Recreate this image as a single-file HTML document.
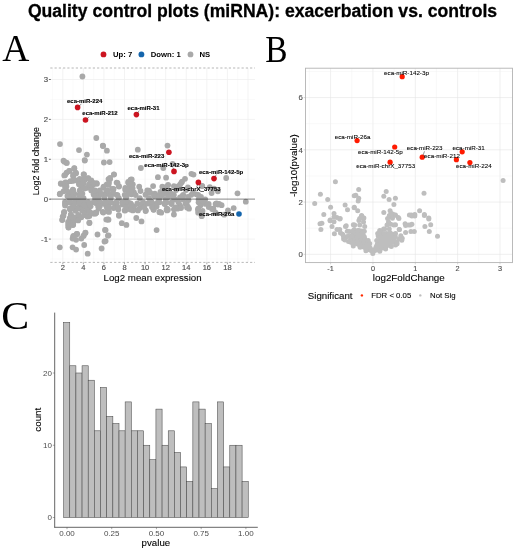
<!DOCTYPE html>
<html><head><meta charset="utf-8"><style>
html,body{margin:0;padding:0;background:#fff;width:518px;height:550px;overflow:hidden}
svg{display:block;filter:blur(0.4px)}
</style></head><body>
<svg width="518" height="550" viewBox="0 0 518 550">
<rect width="518" height="550" fill="#fff"/>
<text x="262.5" y="17.2" text-anchor="middle" font-family="Liberation Sans, sans-serif" font-weight="bold" font-size="17.6" fill="#000" stroke="#000" stroke-width="0.3">Quality control plots (miRNA): exacerbation vs. controls</text>
<text x="2.3" y="61.2" font-family="Liberation Serif, serif" font-size="37.5" fill="#000">A</text>
<text transform="translate(265.3,61.9) scale(0.89,1)" x="0" y="0" font-family="Liberation Serif, serif" font-size="37.5" fill="#000">B</text>
<text transform="translate(1.2,329.2) scale(1.06,1)" font-family="Liberation Serif, serif" font-size="39.5" fill="#000">C</text>
<line x1="52.51" y1="68.0" x2="52.51" y2="262.4" stroke="#f5f5f5" stroke-width="0.4"/><line x1="62.80" y1="68.0" x2="62.80" y2="262.4" stroke="#eeeeee" stroke-width="0.7"/><line x1="73.09" y1="68.0" x2="73.09" y2="262.4" stroke="#f5f5f5" stroke-width="0.4"/><line x1="83.38" y1="68.0" x2="83.38" y2="262.4" stroke="#eeeeee" stroke-width="0.7"/><line x1="93.66" y1="68.0" x2="93.66" y2="262.4" stroke="#f5f5f5" stroke-width="0.4"/><line x1="103.95" y1="68.0" x2="103.95" y2="262.4" stroke="#eeeeee" stroke-width="0.7"/><line x1="114.24" y1="68.0" x2="114.24" y2="262.4" stroke="#f5f5f5" stroke-width="0.4"/><line x1="124.53" y1="68.0" x2="124.53" y2="262.4" stroke="#eeeeee" stroke-width="0.7"/><line x1="134.81" y1="68.0" x2="134.81" y2="262.4" stroke="#f5f5f5" stroke-width="0.4"/><line x1="145.10" y1="68.0" x2="145.10" y2="262.4" stroke="#eeeeee" stroke-width="0.7"/><line x1="155.39" y1="68.0" x2="155.39" y2="262.4" stroke="#f5f5f5" stroke-width="0.4"/><line x1="165.67" y1="68.0" x2="165.67" y2="262.4" stroke="#eeeeee" stroke-width="0.7"/><line x1="175.96" y1="68.0" x2="175.96" y2="262.4" stroke="#f5f5f5" stroke-width="0.4"/><line x1="186.25" y1="68.0" x2="186.25" y2="262.4" stroke="#eeeeee" stroke-width="0.7"/><line x1="196.54" y1="68.0" x2="196.54" y2="262.4" stroke="#f5f5f5" stroke-width="0.4"/><line x1="206.82" y1="68.0" x2="206.82" y2="262.4" stroke="#eeeeee" stroke-width="0.7"/><line x1="217.11" y1="68.0" x2="217.11" y2="262.4" stroke="#f5f5f5" stroke-width="0.4"/><line x1="227.40" y1="68.0" x2="227.40" y2="262.4" stroke="#eeeeee" stroke-width="0.7"/><line x1="237.69" y1="68.0" x2="237.69" y2="262.4" stroke="#f5f5f5" stroke-width="0.4"/><line x1="247.97" y1="68.0" x2="247.97" y2="262.4" stroke="#eeeeee" stroke-width="0.7"/><line x1="50.3" y1="259.05" x2="255.0" y2="259.05" stroke="#f5f5f5" stroke-width="0.4"/><line x1="50.3" y1="239.10" x2="255.0" y2="239.10" stroke="#eeeeee" stroke-width="0.7"/><line x1="50.3" y1="219.15" x2="255.0" y2="219.15" stroke="#f5f5f5" stroke-width="0.4"/><line x1="50.3" y1="179.25" x2="255.0" y2="179.25" stroke="#f5f5f5" stroke-width="0.4"/><line x1="50.3" y1="159.30" x2="255.0" y2="159.30" stroke="#eeeeee" stroke-width="0.7"/><line x1="50.3" y1="139.35" x2="255.0" y2="139.35" stroke="#f5f5f5" stroke-width="0.4"/><line x1="50.3" y1="119.40" x2="255.0" y2="119.40" stroke="#eeeeee" stroke-width="0.7"/><line x1="50.3" y1="99.45" x2="255.0" y2="99.45" stroke="#f5f5f5" stroke-width="0.4"/><line x1="50.3" y1="79.50" x2="255.0" y2="79.50" stroke="#eeeeee" stroke-width="0.7"/>
<text x="48.0" y="82.25" text-anchor="end" font-family="Liberation Sans, sans-serif" font-size="7.8" fill="#4d4d4d" stroke="#4d4d4d" stroke-width="0.15">3</text>
<line x1="48.9" y1="79.50" x2="50.8" y2="79.50" stroke="#333" stroke-width="0.7"/>
<text x="48.0" y="122.15" text-anchor="end" font-family="Liberation Sans, sans-serif" font-size="7.8" fill="#4d4d4d" stroke="#4d4d4d" stroke-width="0.15">2</text>
<line x1="48.9" y1="119.40" x2="50.8" y2="119.40" stroke="#333" stroke-width="0.7"/>
<text x="48.0" y="162.05" text-anchor="end" font-family="Liberation Sans, sans-serif" font-size="7.8" fill="#4d4d4d" stroke="#4d4d4d" stroke-width="0.15">1</text>
<line x1="48.9" y1="159.30" x2="50.8" y2="159.30" stroke="#333" stroke-width="0.7"/>
<text x="48.0" y="201.95" text-anchor="end" font-family="Liberation Sans, sans-serif" font-size="7.8" fill="#4d4d4d" stroke="#4d4d4d" stroke-width="0.15">0</text>
<line x1="48.9" y1="199.20" x2="50.8" y2="199.20" stroke="#333" stroke-width="0.7"/>
<text x="48.0" y="241.85" text-anchor="end" font-family="Liberation Sans, sans-serif" font-size="7.8" fill="#4d4d4d" stroke="#4d4d4d" stroke-width="0.15">-1</text>
<line x1="48.9" y1="239.10" x2="50.8" y2="239.10" stroke="#333" stroke-width="0.7"/>
<text x="62.80" y="270.4" text-anchor="middle" font-family="Liberation Sans, sans-serif" font-size="7.5" fill="#4d4d4d" stroke="#4d4d4d" stroke-width="0.15">2</text>
<line x1="62.80" y1="262.4" x2="62.80" y2="264.3" stroke="#4d4d4d" stroke-width="0.5"/>
<text x="83.38" y="270.4" text-anchor="middle" font-family="Liberation Sans, sans-serif" font-size="7.5" fill="#4d4d4d" stroke="#4d4d4d" stroke-width="0.15">4</text>
<line x1="83.38" y1="262.4" x2="83.38" y2="264.3" stroke="#4d4d4d" stroke-width="0.5"/>
<text x="103.95" y="270.4" text-anchor="middle" font-family="Liberation Sans, sans-serif" font-size="7.5" fill="#4d4d4d" stroke="#4d4d4d" stroke-width="0.15">6</text>
<line x1="103.95" y1="262.4" x2="103.95" y2="264.3" stroke="#4d4d4d" stroke-width="0.5"/>
<text x="124.53" y="270.4" text-anchor="middle" font-family="Liberation Sans, sans-serif" font-size="7.5" fill="#4d4d4d" stroke="#4d4d4d" stroke-width="0.15">8</text>
<line x1="124.53" y1="262.4" x2="124.53" y2="264.3" stroke="#4d4d4d" stroke-width="0.5"/>
<text x="145.10" y="270.4" text-anchor="middle" font-family="Liberation Sans, sans-serif" font-size="7.5" fill="#4d4d4d" stroke="#4d4d4d" stroke-width="0.15">10</text>
<line x1="145.10" y1="262.4" x2="145.10" y2="264.3" stroke="#4d4d4d" stroke-width="0.5"/>
<text x="165.67" y="270.4" text-anchor="middle" font-family="Liberation Sans, sans-serif" font-size="7.5" fill="#4d4d4d" stroke="#4d4d4d" stroke-width="0.15">12</text>
<line x1="165.67" y1="262.4" x2="165.67" y2="264.3" stroke="#4d4d4d" stroke-width="0.5"/>
<text x="186.25" y="270.4" text-anchor="middle" font-family="Liberation Sans, sans-serif" font-size="7.5" fill="#4d4d4d" stroke="#4d4d4d" stroke-width="0.15">14</text>
<line x1="186.25" y1="262.4" x2="186.25" y2="264.3" stroke="#4d4d4d" stroke-width="0.5"/>
<text x="206.82" y="270.4" text-anchor="middle" font-family="Liberation Sans, sans-serif" font-size="7.5" fill="#4d4d4d" stroke="#4d4d4d" stroke-width="0.15">16</text>
<line x1="206.82" y1="262.4" x2="206.82" y2="264.3" stroke="#4d4d4d" stroke-width="0.5"/>
<text x="227.40" y="270.4" text-anchor="middle" font-family="Liberation Sans, sans-serif" font-size="7.5" fill="#4d4d4d" stroke="#4d4d4d" stroke-width="0.15">18</text>
<line x1="227.40" y1="262.4" x2="227.40" y2="264.3" stroke="#4d4d4d" stroke-width="0.5"/>
<text x="152.6" y="280.8" text-anchor="middle" font-family="Liberation Sans, sans-serif" font-size="9.7" fill="#000" stroke="#000" stroke-width="0.1">Log2 mean expression</text>
<text transform="translate(38.8,161.2) rotate(-90)" text-anchor="middle" font-family="Liberation Sans, sans-serif" font-size="8.9" fill="#000" stroke="#000" stroke-width="0.1">Log2 fold change</text>
<circle cx="103.5" cy="54.4" r="2.9" fill="#CC1420"/>
<text x="113" y="57.2" font-family="Liberation Sans, sans-serif" font-weight="bold" font-size="7.7" fill="#000">Up: 7</text>
<circle cx="141.4" cy="54.4" r="2.9" fill="#1465AC"/>
<text x="150.8" y="57.2" font-family="Liberation Sans, sans-serif" font-weight="bold" font-size="7.7" fill="#000">Down: 1</text>
<circle cx="190.5" cy="54.4" r="2.9" fill="#A9A9A9"/>
<text x="199.5" y="57.2" font-family="Liberation Sans, sans-serif" font-weight="bold" font-size="7.7" fill="#000">NS</text>
<g id="ptsA" fill="#A9A9A9"><circle cx="82.4" cy="76.5" r="2.9"/><circle cx="96.3" cy="138.0" r="2.9"/><circle cx="60.0" cy="144.1" r="2.9"/><circle cx="102.8" cy="145.7" r="2.9"/><circle cx="79.0" cy="150.1" r="2.9"/><circle cx="86.9" cy="154.6" r="2.9"/><circle cx="84.7" cy="160.1" r="2.9"/><circle cx="63.5" cy="160.7" r="2.9"/><circle cx="66.4" cy="162.8" r="2.9"/><circle cx="103.1" cy="146.0" r="2.9"/><circle cx="106.9" cy="150.7" r="2.9"/><circle cx="137.8" cy="149.7" r="2.9"/><circle cx="167.5" cy="145.6" r="2.9"/><circle cx="103.9" cy="162.5" r="2.9"/><circle cx="109.6" cy="162.1" r="2.9"/><circle cx="140.9" cy="168.0" r="2.9"/><circle cx="163.3" cy="168.0" r="2.9"/><circle cx="113.9" cy="174.6" r="2.9"/><circle cx="110.0" cy="178.0" r="2.9"/><circle cx="131.7" cy="179.5" r="2.9"/><circle cx="157.9" cy="177.2" r="2.9"/><circle cx="166.1" cy="177.7" r="2.9"/><circle cx="191.4" cy="173.8" r="2.9"/><circle cx="185.0" cy="178.8" r="2.9"/><circle cx="226.2" cy="178.0" r="2.9"/><circle cx="64.5" cy="161.7" r="2.9"/><circle cx="66.8" cy="162.9" r="2.9"/><circle cx="84.8" cy="160.6" r="2.9"/><circle cx="74.3" cy="168.1" r="2.9"/><circle cx="69.1" cy="171.0" r="2.9"/><circle cx="65.1" cy="175.1" r="2.9"/><circle cx="76.1" cy="173.3" r="2.9"/><circle cx="83.6" cy="174.5" r="2.9"/><circle cx="88.2" cy="178.5" r="2.9"/><circle cx="73.2" cy="176.2" r="2.9"/><circle cx="61.0" cy="183.8" r="2.9"/><circle cx="66.8" cy="182.6" r="2.9"/><circle cx="72.6" cy="180.9" r="2.9"/><circle cx="79.0" cy="182.0" r="2.9"/><circle cx="84.8" cy="179.7" r="2.9"/><circle cx="90.6" cy="182.0" r="2.9"/><circle cx="96.9" cy="183.8" r="2.9"/><circle cx="108.5" cy="179.1" r="2.9"/><circle cx="103.3" cy="187.8" r="2.9"/><circle cx="106.8" cy="184.3" r="2.9"/><circle cx="65.1" cy="190.1" r="2.9"/><circle cx="59.8" cy="194.2" r="2.9"/><circle cx="73.2" cy="190.1" r="2.9"/><circle cx="81.3" cy="187.8" r="2.9"/><circle cx="91.7" cy="187.8" r="2.9"/><circle cx="69.7" cy="194.8" r="2.9"/><circle cx="79.0" cy="194.8" r="2.9"/><circle cx="82.4" cy="193.6" r="2.9"/><circle cx="94.0" cy="194.8" r="2.9"/><circle cx="98.7" cy="192.4" r="2.9"/><circle cx="105.6" cy="193.6" r="2.9"/><circle cx="87.1" cy="187.8" r="2.9"/><circle cx="66.2" cy="202.9" r="2.9"/><circle cx="73.2" cy="204.0" r="2.9"/><circle cx="80.1" cy="202.9" r="2.9"/><circle cx="88.2" cy="204.0" r="2.9"/><circle cx="96.4" cy="202.9" r="2.9"/><circle cx="104.5" cy="204.0" r="2.9"/><circle cx="69.7" cy="208.7" r="2.9"/><circle cx="79.0" cy="208.7" r="2.9"/><circle cx="88.2" cy="208.7" r="2.9"/><circle cx="98.7" cy="208.7" r="2.9"/><circle cx="107.9" cy="208.7" r="2.9"/><circle cx="69.7" cy="198.2" r="2.9"/><circle cx="79.0" cy="198.8" r="2.9"/><circle cx="95.2" cy="198.2" r="2.9"/><circle cx="104.5" cy="198.2" r="2.9"/><circle cx="65.1" cy="205.6" r="2.9"/><circle cx="73.2" cy="207.3" r="2.9"/><circle cx="80.1" cy="206.2" r="2.9"/><circle cx="88.2" cy="207.3" r="2.9"/><circle cx="98.7" cy="206.7" r="2.9"/><circle cx="106.8" cy="207.3" r="2.9"/><circle cx="82.4" cy="210.8" r="2.9"/><circle cx="75.5" cy="210.8" r="2.9"/><circle cx="70.3" cy="209.6" r="2.9"/><circle cx="63.9" cy="212.5" r="2.9"/><circle cx="62.7" cy="216.6" r="2.9"/><circle cx="62.2" cy="220.1" r="2.9"/><circle cx="70.9" cy="214.8" r="2.9"/><circle cx="70.3" cy="218.9" r="2.9"/><circle cx="69.1" cy="222.4" r="2.9"/><circle cx="68.5" cy="227.6" r="2.9"/><circle cx="73.2" cy="224.7" r="2.9"/><circle cx="75.5" cy="218.9" r="2.9"/><circle cx="79.0" cy="215.4" r="2.9"/><circle cx="84.8" cy="213.1" r="2.9"/><circle cx="89.4" cy="216.0" r="2.9"/><circle cx="95.2" cy="213.7" r="2.9"/><circle cx="96.3" cy="212.5" r="2.9"/><circle cx="103.3" cy="212.5" r="2.9"/><circle cx="107.9" cy="211.4" r="2.9"/><circle cx="107.9" cy="219.5" r="2.9"/><circle cx="89.4" cy="223.0" r="2.9"/><circle cx="105.0" cy="229.9" r="2.9"/><circle cx="107.9" cy="235.7" r="2.9"/><circle cx="97.5" cy="234.5" r="2.9"/><circle cx="104.5" cy="241.5" r="2.9"/><circle cx="101.6" cy="248.5" r="2.9"/><circle cx="85.3" cy="232.8" r="2.9"/><circle cx="83.6" cy="235.7" r="2.9"/><circle cx="81.3" cy="238.6" r="2.9"/><circle cx="77.2" cy="234.0" r="2.9"/><circle cx="73.2" cy="236.3" r="2.9"/><circle cx="76.1" cy="239.8" r="2.9"/><circle cx="72.6" cy="238.6" r="2.9"/><circle cx="84.2" cy="245.0" r="2.9"/><circle cx="59.8" cy="247.3" r="2.9"/><circle cx="72.6" cy="247.3" r="2.9"/><circle cx="76.1" cy="249.6" r="2.9"/><circle cx="87.7" cy="253.7" r="2.9"/><circle cx="128.2" cy="182.0" r="2.9"/><circle cx="116.6" cy="182.6" r="2.9"/><circle cx="118.9" cy="186.1" r="2.9"/><circle cx="108.5" cy="184.9" r="2.9"/><circle cx="112.0" cy="189.0" r="2.9"/><circle cx="106.7" cy="191.3" r="2.9"/><circle cx="125.3" cy="187.8" r="2.9"/><circle cx="129.9" cy="186.7" r="2.9"/><circle cx="132.8" cy="184.3" r="2.9"/><circle cx="139.2" cy="186.7" r="2.9"/><circle cx="153.1" cy="186.1" r="2.9"/><circle cx="149.0" cy="190.7" r="2.9"/><circle cx="134.0" cy="192.4" r="2.9"/><circle cx="128.2" cy="193.6" r="2.9"/><circle cx="124.7" cy="194.8" r="2.9"/><circle cx="116.6" cy="194.8" r="2.9"/><circle cx="109.6" cy="194.8" r="2.9"/><circle cx="145.6" cy="194.8" r="2.9"/><circle cx="154.8" cy="193.6" r="2.9"/><circle cx="161.8" cy="192.4" r="2.9"/><circle cx="159.5" cy="194.8" r="2.9"/><circle cx="108.5" cy="204.0" r="2.9"/><circle cx="115.4" cy="204.0" r="2.9"/><circle cx="122.4" cy="204.6" r="2.9"/><circle cx="134.0" cy="206.3" r="2.9"/><circle cx="142.1" cy="204.0" r="2.9"/><circle cx="156.0" cy="204.0" r="2.9"/><circle cx="110.8" cy="198.2" r="2.9"/><circle cx="118.9" cy="198.2" r="2.9"/><circle cx="125.9" cy="198.2" r="2.9"/><circle cx="139.8" cy="198.2" r="2.9"/><circle cx="149.0" cy="198.2" r="2.9"/><circle cx="159.5" cy="198.2" r="2.9"/><circle cx="108.5" cy="203.5" r="2.9"/><circle cx="115.4" cy="203.5" r="2.9"/><circle cx="122.4" cy="202.3" r="2.9"/><circle cx="130.5" cy="203.5" r="2.9"/><circle cx="137.4" cy="203.5" r="2.9"/><circle cx="143.2" cy="202.3" r="2.9"/><circle cx="151.3" cy="201.7" r="2.9"/><circle cx="159.5" cy="202.3" r="2.9"/><circle cx="108.5" cy="211.0" r="2.9"/><circle cx="118.9" cy="215.1" r="2.9"/><circle cx="124.7" cy="210.4" r="2.9"/><circle cx="132.8" cy="210.4" r="2.9"/><circle cx="139.8" cy="208.1" r="2.9"/><circle cx="145.6" cy="211.0" r="2.9"/><circle cx="143.2" cy="204.6" r="2.9"/><circle cx="153.7" cy="209.8" r="2.9"/><circle cx="159.5" cy="212.2" r="2.9"/><circle cx="108.5" cy="219.7" r="2.9"/><circle cx="136.3" cy="218.0" r="2.9"/><circle cx="141.5" cy="221.4" r="2.9"/><circle cx="121.8" cy="223.2" r="2.9"/><circle cx="126.4" cy="224.9" r="2.9"/><circle cx="105.6" cy="230.1" r="2.9"/><circle cx="108.5" cy="235.3" r="2.9"/><circle cx="105.6" cy="241.1" r="2.9"/><circle cx="156.6" cy="230.1" r="2.9"/><circle cx="181.4" cy="182.6" r="2.9"/><circle cx="178.5" cy="186.1" r="2.9"/><circle cx="173.9" cy="186.1" r="2.9"/><circle cx="168.1" cy="184.9" r="2.9"/><circle cx="162.3" cy="186.7" r="2.9"/><circle cx="202.3" cy="186.1" r="2.9"/><circle cx="209.8" cy="187.2" r="2.9"/><circle cx="211.6" cy="193.0" r="2.9"/><circle cx="217.9" cy="191.3" r="2.9"/><circle cx="167.0" cy="193.6" r="2.9"/><circle cx="173.9" cy="194.8" r="2.9"/><circle cx="183.2" cy="194.8" r="2.9"/><circle cx="191.3" cy="194.8" r="2.9"/><circle cx="198.2" cy="194.8" r="2.9"/><circle cx="165.8" cy="199.4" r="2.9"/><circle cx="175.1" cy="199.4" r="2.9"/><circle cx="183.2" cy="199.4" r="2.9"/><circle cx="188.5" cy="200.0" r="2.9"/><circle cx="198.6" cy="199.4" r="2.9"/><circle cx="205.2" cy="199.4" r="2.9"/><circle cx="164.6" cy="204.0" r="2.9"/><circle cx="171.6" cy="204.0" r="2.9"/><circle cx="179.7" cy="205.2" r="2.9"/><circle cx="186.7" cy="204.0" r="2.9"/><circle cx="200.6" cy="205.2" r="2.9"/><circle cx="208.7" cy="204.0" r="2.9"/><circle cx="215.6" cy="204.0" r="2.9"/><circle cx="167.0" cy="208.7" r="2.9"/><circle cx="177.4" cy="208.7" r="2.9"/><circle cx="189.0" cy="208.7" r="2.9"/><circle cx="198.2" cy="208.7" r="2.9"/><circle cx="213.3" cy="208.7" r="2.9"/><circle cx="164.6" cy="203.5" r="2.9"/><circle cx="171.6" cy="202.3" r="2.9"/><circle cx="178.5" cy="202.3" r="2.9"/><circle cx="185.5" cy="203.5" r="2.9"/><circle cx="188.0" cy="207.0" r="2.9"/><circle cx="167.0" cy="210.4" r="2.9"/><circle cx="173.9" cy="209.3" r="2.9"/><circle cx="173.9" cy="214.5" r="2.9"/><circle cx="180.9" cy="207.0" r="2.9"/><circle cx="161.2" cy="212.7" r="2.9"/><circle cx="198.6" cy="202.3" r="2.9"/><circle cx="204.0" cy="202.3" r="2.9"/><circle cx="198.2" cy="209.3" r="2.9"/><circle cx="198.2" cy="212.7" r="2.9"/><circle cx="201.7" cy="216.2" r="2.9"/><circle cx="208.7" cy="207.0" r="2.9"/><circle cx="213.3" cy="209.3" r="2.9"/><circle cx="217.9" cy="204.6" r="2.9"/><circle cx="215.6" cy="212.7" r="2.9"/><circle cx="214.0" cy="188.6" r="2.9"/><circle cx="237.5" cy="193.3" r="2.9"/><circle cx="245.8" cy="201.7" r="2.9"/><circle cx="216.5" cy="203.3" r="2.9"/><circle cx="221.6" cy="205.2" r="2.9"/><circle cx="219.1" cy="203.9" r="2.9"/><circle cx="212.1" cy="209.0" r="2.9"/><circle cx="205.7" cy="203.9" r="2.9"/><circle cx="202.5" cy="200.7" r="2.9"/><circle cx="233.7" cy="208.1" r="2.9"/><circle cx="228.0" cy="210.3" r="2.9"/><circle cx="224.2" cy="214.7" r="2.9"/><circle cx="201.9" cy="215.3" r="2.9"/><circle cx="202.5" cy="210.9" r="2.9"/><circle cx="74.3" cy="168.5" r="2.9"/><circle cx="69.7" cy="170.8" r="2.9"/><circle cx="66.6" cy="172.7" r="2.9"/><circle cx="64.3" cy="175.4" r="2.9"/><circle cx="75.8" cy="172.7" r="2.9"/><circle cx="73.1" cy="175.0" r="2.9"/><circle cx="84.0" cy="174.3" r="2.9"/><circle cx="88.2" cy="178.1" r="2.9"/><circle cx="91.3" cy="180.4" r="2.9"/><circle cx="60.8" cy="183.5" r="2.9"/><circle cx="65.4" cy="182.4" r="2.9"/><circle cx="70.4" cy="181.2" r="2.9"/><circle cx="75.8" cy="180.4" r="2.9"/><circle cx="79.7" cy="178.9" r="2.9"/><circle cx="82.0" cy="179.7" r="2.9"/><circle cx="78.9" cy="184.3" r="2.9"/><circle cx="83.6" cy="183.5" r="2.9"/><circle cx="89.0" cy="184.3" r="2.9"/><circle cx="93.6" cy="184.3" r="2.9"/><circle cx="65.0" cy="186.6" r="2.9"/><circle cx="60.0" cy="193.6" r="2.9"/><circle cx="63.5" cy="191.3" r="2.9"/><circle cx="67.4" cy="191.3" r="2.9"/><circle cx="72.8" cy="189.7" r="2.9"/><circle cx="74.3" cy="193.6" r="2.9"/><circle cx="79.7" cy="190.5" r="2.9"/><circle cx="80.5" cy="195.1" r="2.9"/><circle cx="91.3" cy="190.5" r="2.9"/><circle cx="93.6" cy="194.3" r="2.9"/><circle cx="67.4" cy="195.9" r="2.9"/><circle cx="71.2" cy="197.4" r="2.9"/><circle cx="65.0" cy="202.1" r="2.9"/><circle cx="70.4" cy="202.1" r="2.9"/><circle cx="76.6" cy="202.1" r="2.9"/><circle cx="82.0" cy="202.8" r="2.9"/><circle cx="88.2" cy="202.1" r="2.9"/><circle cx="93.6" cy="202.1" r="2.9"/><circle cx="65.0" cy="203.8" r="2.9"/><circle cx="69.7" cy="202.6" r="2.9"/><circle cx="74.3" cy="203.4" r="2.9"/><circle cx="79.7" cy="203.0" r="2.9"/><circle cx="85.1" cy="202.6" r="2.9"/><circle cx="89.7" cy="203.4" r="2.9"/><circle cx="72.0" cy="208.0" r="2.9"/><circle cx="77.4" cy="208.0" r="2.9"/><circle cx="82.8" cy="207.3" r="2.9"/><circle cx="87.4" cy="208.8" r="2.9"/><circle cx="92.8" cy="213.4" r="2.9"/><circle cx="64.3" cy="211.9" r="2.9"/><circle cx="63.5" cy="215.8" r="2.9"/><circle cx="62.3" cy="219.6" r="2.9"/><circle cx="70.8" cy="214.6" r="2.9"/><circle cx="69.7" cy="218.1" r="2.9"/><circle cx="68.1" cy="221.9" r="2.9"/><circle cx="68.5" cy="227.3" r="2.9"/><circle cx="68.1" cy="225.0" r="2.9"/><circle cx="74.3" cy="217.3" r="2.9"/><circle cx="73.5" cy="221.9" r="2.9"/><circle cx="72.8" cy="225.0" r="2.9"/><circle cx="78.2" cy="215.0" r="2.9"/><circle cx="81.3" cy="217.3" r="2.9"/><circle cx="78.2" cy="220.4" r="2.9"/><circle cx="84.3" cy="215.0" r="2.9"/><circle cx="87.4" cy="216.5" r="2.9"/><circle cx="89.7" cy="211.9" r="2.9"/><circle cx="89.4" cy="222.7" r="2.9"/><circle cx="76.6" cy="233.9" r="2.9"/><circle cx="73.5" cy="235.8" r="2.9"/><circle cx="85.5" cy="232.7" r="2.9"/><circle cx="83.6" cy="235.8" r="2.9"/><circle cx="114.0" cy="174.3" r="2.9"/><circle cx="110.1" cy="178.9" r="2.9"/><circle cx="96.6" cy="183.1" r="2.9"/><circle cx="93.5" cy="183.0" r="2.9"/><circle cx="103.6" cy="186.6" r="2.9"/><circle cx="109.0" cy="182.8" r="2.9"/><circle cx="117.5" cy="182.8" r="2.9"/><circle cx="119.0" cy="186.6" r="2.9"/><circle cx="113.6" cy="188.9" r="2.9"/><circle cx="107.4" cy="190.5" r="2.9"/><circle cx="99.7" cy="190.5" r="2.9"/><circle cx="95.1" cy="190.5" r="2.9"/><circle cx="125.2" cy="189.7" r="2.9"/><circle cx="128.3" cy="182.8" r="2.9"/><circle cx="130.6" cy="179.7" r="2.9"/><circle cx="129.1" cy="188.2" r="2.9"/><circle cx="96.6" cy="195.9" r="2.9"/><circle cx="103.6" cy="195.1" r="2.9"/><circle cx="111.3" cy="195.1" r="2.9"/><circle cx="117.5" cy="195.1" r="2.9"/><circle cx="126.7" cy="195.9" r="2.9"/><circle cx="131.4" cy="194.3" r="2.9"/><circle cx="95.9" cy="202.8" r="2.9"/><circle cx="107.4" cy="202.8" r="2.9"/><circle cx="116.7" cy="202.8" r="2.9"/><circle cx="124.4" cy="202.8" r="2.9"/><circle cx="95.1" cy="202.6" r="2.9"/><circle cx="100.5" cy="202.6" r="2.9"/><circle cx="105.9" cy="201.9" r="2.9"/><circle cx="111.3" cy="202.6" r="2.9"/><circle cx="116.7" cy="201.9" r="2.9"/><circle cx="122.9" cy="202.6" r="2.9"/><circle cx="128.3" cy="202.6" r="2.9"/><circle cx="94.3" cy="213.4" r="2.9"/><circle cx="96.2" cy="212.7" r="2.9"/><circle cx="102.8" cy="211.9" r="2.9"/><circle cx="109.0" cy="211.9" r="2.9"/><circle cx="113.6" cy="208.0" r="2.9"/><circle cx="118.3" cy="209.6" r="2.9"/><circle cx="119.0" cy="215.8" r="2.9"/><circle cx="125.2" cy="210.4" r="2.9"/><circle cx="130.6" cy="208.0" r="2.9"/><circle cx="107.4" cy="207.3" r="2.9"/><circle cx="98.2" cy="206.5" r="2.9"/><circle cx="106.3" cy="219.6" r="2.9"/><circle cx="129.5" cy="184.3" r="2.9"/><circle cx="132.6" cy="188.2" r="2.9"/><circle cx="130.3" cy="192.0" r="2.9"/><circle cx="135.7" cy="195.1" r="2.9"/><circle cx="147.3" cy="190.5" r="2.9"/><circle cx="145.8" cy="194.3" r="2.9"/><circle cx="150.4" cy="192.8" r="2.9"/><circle cx="154.3" cy="195.1" r="2.9"/><circle cx="160.4" cy="192.0" r="2.9"/><circle cx="162.7" cy="194.3" r="2.9"/><circle cx="166.6" cy="186.6" r="2.9"/><circle cx="166.6" cy="190.5" r="2.9"/><circle cx="131.1" cy="204.2" r="2.9"/><circle cx="134.2" cy="209.6" r="2.9"/><circle cx="130.3" cy="209.6" r="2.9"/><circle cx="138.0" cy="210.4" r="2.9"/><circle cx="142.7" cy="204.2" r="2.9"/><circle cx="145.8" cy="210.4" r="2.9"/><circle cx="144.2" cy="207.3" r="2.9"/><circle cx="151.9" cy="202.6" r="2.9"/><circle cx="153.5" cy="209.6" r="2.9"/><circle cx="156.6" cy="206.5" r="2.9"/><circle cx="159.7" cy="211.9" r="2.9"/><circle cx="158.1" cy="201.9" r="2.9"/><circle cx="166.6" cy="209.6" r="2.9"/><circle cx="166.6" cy="202.6" r="2.9"/><circle cx="182.1" cy="181.6" r="2.9"/><circle cx="180.2" cy="184.3" r="2.9"/><circle cx="187.9" cy="187.4" r="2.9"/><circle cx="201.8" cy="185.8" r="2.9"/><circle cx="182.5" cy="195.9" r="2.9"/><circle cx="196.4" cy="194.3" r="2.9"/><circle cx="171.0" cy="193.6" r="2.9"/><circle cx="167.9" cy="209.7" r="2.9"/><circle cx="175.6" cy="207.4" r="2.9"/><circle cx="181.0" cy="208.1" r="2.9"/><circle cx="187.0" cy="207.4" r="2.9"/><circle cx="198.3" cy="210.4" r="2.9"/><circle cx="74.3" cy="198.2" r="2.9"/><circle cx="83.6" cy="198.2" r="2.9"/><circle cx="98.7" cy="198.2" r="2.9"/><circle cx="73.2" cy="206.3" r="2.9"/><circle cx="83.6" cy="205.2" r="2.9"/><circle cx="90.6" cy="206.3" r="2.9"/><circle cx="99.8" cy="206.3" r="2.9"/><circle cx="66.5" cy="186.5" r="2.9"/><circle cx="84.5" cy="188.5" r="2.9"/><circle cx="101.0" cy="193.6" r="2.9"/><circle cx="72.6" cy="191.9" r="2.9"/><circle cx="140.5" cy="191.0" r="2.9"/><circle cx="154.0" cy="196.0" r="2.9"/><circle cx="158.0" cy="197.0" r="2.9"/><circle cx="162.0" cy="195.5" r="2.9"/><circle cx="113.0" cy="192.0" r="2.9"/><circle cx="108.5" cy="207.5" r="2.9"/><circle cx="118.0" cy="207.5" r="2.9"/><circle cx="126.0" cy="207.0" r="2.9"/><circle cx="148.0" cy="203.5" r="2.9"/><circle cx="152.0" cy="207.0" r="2.9"/><circle cx="173.0" cy="197.0" r="2.9"/><circle cx="193.0" cy="193.0" r="2.9"/><circle cx="188.0" cy="197.0" r="2.9"/><circle cx="168.0" cy="197.0" r="2.9"/><circle cx="180.0" cy="197.5" r="2.9"/><circle cx="201.0" cy="197.0" r="2.9"/><circle cx="186.0" cy="190.0" r="2.9"/><circle cx="176.0" cy="190.0" r="2.9"/><circle cx="166.0" cy="190.0" r="2.9"/><circle cx="172.6" cy="164.0" r="2.9"/><circle cx="193.5" cy="174.6" r="2.9"/></g>
<line x1="50.3" y1="199.2" x2="255.0" y2="199.2" stroke="#000" stroke-opacity="0.38" stroke-width="1.2"/>
<line x1="50.3" y1="68.0" x2="255.0" y2="68.0" stroke="#888" stroke-width="0.6" stroke-dasharray="2.2 2.05"/>
<line x1="50.3" y1="262.4" x2="255.0" y2="262.4" stroke="#888" stroke-width="0.6" stroke-dasharray="2.2 2.05"/>
<circle cx="77.6" cy="107.4" r="2.8" fill="#CC1420"/>
<circle cx="85.5" cy="120.0" r="2.8" fill="#CC1420"/>
<circle cx="136.4" cy="114.6" r="2.8" fill="#CC1420"/>
<circle cx="168.9" cy="152.2" r="2.8" fill="#CC1420"/>
<circle cx="174.0" cy="171.4" r="2.8" fill="#CC1420"/>
<circle cx="214.0" cy="178.6" r="2.8" fill="#CC1420"/>
<circle cx="198.4" cy="182.4" r="2.8" fill="#CC1420"/>
<circle cx="239.0" cy="214.0" r="2.8" fill="#1465AC"/>
<line x1="78.9" y1="106.5" x2="81.4" y2="103.8" stroke="#333" stroke-width="0.5"/>
<line x1="86.9" y1="118.8" x2="89.3" y2="116.8" stroke="#333" stroke-width="0.5"/>
<line x1="137.6" y1="113.0" x2="139.2" y2="110.6" stroke="#333" stroke-width="0.5"/>
<line x1="197.6" y1="184.6" x2="196.6" y2="187.2" stroke="#333" stroke-width="0.5"/>
<line x1="215.0" y1="176.6" x2="216.4" y2="174.6" stroke="#333" stroke-width="0.5"/>
<line x1="173.6" y1="169.3" x2="172.8" y2="167.4" stroke="#333" stroke-width="0.5"/>
<text x="67.0" y="102.80" font-family="Liberation Sans, sans-serif" font-weight="bold" font-size="6.0" fill="#000" stroke="#000" stroke-width="0.12">eca-miR-224</text>
<text x="82.3" y="115.20" font-family="Liberation Sans, sans-serif" font-weight="bold" font-size="6.0" fill="#000" stroke="#000" stroke-width="0.12">eca-miR-212</text>
<text x="127.5" y="110.30" font-family="Liberation Sans, sans-serif" font-weight="bold" font-size="6.0" fill="#000" stroke="#000" stroke-width="0.12">eca-miR-31</text>
<text x="128.9" y="157.50" font-family="Liberation Sans, sans-serif" font-weight="bold" font-size="6.0" fill="#000" stroke="#000" stroke-width="0.12">eca-miR-223</text>
<text x="144.3" y="166.90" font-family="Liberation Sans, sans-serif" font-weight="bold" font-size="6.0" fill="#000" stroke="#000" stroke-width="0.12">eca-miR-142-3p</text>
<text x="198.9" y="174.20" font-family="Liberation Sans, sans-serif" font-weight="bold" font-size="6.0" fill="#000" stroke="#000" stroke-width="0.12">eca-miR-142-5p</text>
<text x="161.9" y="191.10" font-family="Liberation Sans, sans-serif" font-weight="bold" font-size="6.0" fill="#000" stroke="#000" stroke-width="0.12">eca-miR-chrX_37753</text>
<text x="199.0" y="216.20" font-family="Liberation Sans, sans-serif" font-weight="bold" font-size="6.0" fill="#000" stroke="#000" stroke-width="0.12">eca-miR-26a</text>
<line x1="309.42" y1="68.2" x2="309.42" y2="262.6" stroke="#f1f1f1" stroke-width="0.4"/><line x1="330.60" y1="68.2" x2="330.60" y2="262.6" stroke="#e4e4e4" stroke-width="0.6"/><line x1="351.77" y1="68.2" x2="351.77" y2="262.6" stroke="#f1f1f1" stroke-width="0.4"/><line x1="372.95" y1="68.2" x2="372.95" y2="262.6" stroke="#e4e4e4" stroke-width="0.6"/><line x1="394.12" y1="68.2" x2="394.12" y2="262.6" stroke="#f1f1f1" stroke-width="0.4"/><line x1="415.30" y1="68.2" x2="415.30" y2="262.6" stroke="#e4e4e4" stroke-width="0.6"/><line x1="436.48" y1="68.2" x2="436.48" y2="262.6" stroke="#f1f1f1" stroke-width="0.4"/><line x1="457.65" y1="68.2" x2="457.65" y2="262.6" stroke="#e4e4e4" stroke-width="0.6"/><line x1="478.82" y1="68.2" x2="478.82" y2="262.6" stroke="#f1f1f1" stroke-width="0.4"/><line x1="500.00" y1="68.2" x2="500.00" y2="262.6" stroke="#e4e4e4" stroke-width="0.6"/><line x1="305.5" y1="254.30" x2="512.5" y2="254.30" stroke="#e4e4e4" stroke-width="0.6"/><line x1="305.5" y1="228.18" x2="512.5" y2="228.18" stroke="#f1f1f1" stroke-width="0.4"/><line x1="305.5" y1="202.06" x2="512.5" y2="202.06" stroke="#e4e4e4" stroke-width="0.6"/><line x1="305.5" y1="175.94" x2="512.5" y2="175.94" stroke="#f1f1f1" stroke-width="0.4"/><line x1="305.5" y1="149.82" x2="512.5" y2="149.82" stroke="#e4e4e4" stroke-width="0.6"/><line x1="305.5" y1="123.70" x2="512.5" y2="123.70" stroke="#f1f1f1" stroke-width="0.4"/><line x1="305.5" y1="97.58" x2="512.5" y2="97.58" stroke="#e4e4e4" stroke-width="0.6"/><line x1="305.5" y1="71.46" x2="512.5" y2="71.46" stroke="#f1f1f1" stroke-width="0.4"/>
<polygon points="352,232 358,228 364,229 366,236 370,243 373,248 376,241 380,234 386,231 394,232 398,236 395,243 390,247 384,250 378,252 372.8,254 366,251 360,248 354,245 349,241 348,236" fill="#BEBEBE"/>
<g id="ptsB" fill="#BEBEBE"><circle cx="335.4" cy="181.8" r="2.5"/><circle cx="320.4" cy="194.3" r="2.5"/><circle cx="327.7" cy="199.6" r="2.5"/><circle cx="314.7" cy="203.5" r="2.5"/><circle cx="330.6" cy="207.3" r="2.5"/><circle cx="345.1" cy="204.9" r="2.5"/><circle cx="347.5" cy="209.7" r="2.5"/><circle cx="354.2" cy="195.8" r="2.5"/><circle cx="354.2" cy="207.8" r="2.5"/><circle cx="323.8" cy="214.6" r="2.5"/><circle cx="334.0" cy="213.6" r="2.5"/><circle cx="336.9" cy="217.5" r="2.5"/><circle cx="340.2" cy="218.4" r="2.5"/><circle cx="330.1" cy="219.9" r="2.5"/><circle cx="320.0" cy="223.7" r="2.5"/><circle cx="321.9" cy="223.2" r="2.5"/><circle cx="320.9" cy="229.5" r="2.5"/><circle cx="330.1" cy="220.8" r="2.5"/><circle cx="334.0" cy="221.8" r="2.5"/><circle cx="332.0" cy="226.6" r="2.5"/><circle cx="334.0" cy="216.9" r="2.5"/><circle cx="339.7" cy="218.9" r="2.5"/><circle cx="334.4" cy="233.8" r="2.5"/><circle cx="339.7" cy="229.5" r="2.5"/><circle cx="345.5" cy="226.6" r="2.5"/><circle cx="353.3" cy="224.7" r="2.5"/><circle cx="342.6" cy="234.3" r="2.5"/><circle cx="343.6" cy="239.1" r="2.5"/><circle cx="348.4" cy="236.2" r="2.5"/><circle cx="350.4" cy="242.0" r="2.5"/><circle cx="353.3" cy="245.9" r="2.5"/><circle cx="353.3" cy="234.3" r="2.5"/><circle cx="349.4" cy="231.4" r="2.5"/><circle cx="354.2" cy="229.5" r="2.5"/><circle cx="358.7" cy="189.5" r="2.5"/><circle cx="355.8" cy="195.3" r="2.5"/><circle cx="358.7" cy="198.2" r="2.5"/><circle cx="358.2" cy="201.1" r="2.5"/><circle cx="354.3" cy="207.3" r="2.5"/><circle cx="357.7" cy="210.7" r="2.5"/><circle cx="361.6" cy="215.5" r="2.5"/><circle cx="363.5" cy="218.0" r="2.5"/><circle cx="359.7" cy="218.4" r="2.5"/><circle cx="386.2" cy="191.4" r="2.5"/><circle cx="383.8" cy="196.2" r="2.5"/><circle cx="389.1" cy="199.6" r="2.5"/><circle cx="395.4" cy="198.2" r="2.5"/><circle cx="393.9" cy="204.4" r="2.5"/><circle cx="383.8" cy="212.6" r="2.5"/><circle cx="390.1" cy="210.7" r="2.5"/><circle cx="389.6" cy="215.5" r="2.5"/><circle cx="393.4" cy="214.6" r="2.5"/><circle cx="398.3" cy="217.5" r="2.5"/><circle cx="387.6" cy="218.4" r="2.5"/><circle cx="424.0" cy="193.3" r="2.5"/><circle cx="419.6" cy="210.7" r="2.5"/><circle cx="411.4" cy="215.1" r="2.5"/><circle cx="414.8" cy="214.6" r="2.5"/><circle cx="424.4" cy="214.6" r="2.5"/><circle cx="428.8" cy="218.0" r="2.5"/><circle cx="395.5" cy="215.0" r="2.5"/><circle cx="398.9" cy="218.4" r="2.5"/><circle cx="411.9" cy="216.0" r="2.5"/><circle cx="414.8" cy="216.0" r="2.5"/><circle cx="424.4" cy="215.5" r="2.5"/><circle cx="428.8" cy="218.9" r="2.5"/><circle cx="395.5" cy="224.7" r="2.5"/><circle cx="405.1" cy="223.7" r="2.5"/><circle cx="405.6" cy="225.6" r="2.5"/><circle cx="410.4" cy="225.1" r="2.5"/><circle cx="411.9" cy="224.2" r="2.5"/><circle cx="430.7" cy="224.7" r="2.5"/><circle cx="424.9" cy="226.6" r="2.5"/><circle cx="399.3" cy="229.5" r="2.5"/><circle cx="405.6" cy="232.4" r="2.5"/><circle cx="410.9" cy="231.4" r="2.5"/><circle cx="414.3" cy="231.4" r="2.5"/><circle cx="429.3" cy="231.4" r="2.5"/><circle cx="437.5" cy="236.2" r="2.5"/><circle cx="400.8" cy="235.8" r="2.5"/><circle cx="402.2" cy="238.2" r="2.5"/><circle cx="398.9" cy="239.1" r="2.5"/><circle cx="396.9" cy="242.0" r="2.5"/><circle cx="395.5" cy="244.9" r="2.5"/><circle cx="361.6" cy="216.2" r="2.5"/><circle cx="363.9" cy="218.1" r="2.5"/><circle cx="358.9" cy="220.4" r="2.5"/><circle cx="363.5" cy="222.0" r="2.5"/><circle cx="354.7" cy="225.1" r="2.5"/><circle cx="359.7" cy="225.1" r="2.5"/><circle cx="364.7" cy="226.6" r="2.5"/><circle cx="346.2" cy="225.8" r="2.5"/><circle cx="347.3" cy="231.3" r="2.5"/><circle cx="352.7" cy="231.3" r="2.5"/><circle cx="358.1" cy="230.5" r="2.5"/><circle cx="364.3" cy="231.3" r="2.5"/><circle cx="346.5" cy="236.7" r="2.5"/><circle cx="352.0" cy="236.0" r="2.5"/><circle cx="358.1" cy="236.0" r="2.5"/><circle cx="364.3" cy="236.7" r="2.5"/><circle cx="368.2" cy="240.5" r="2.5"/><circle cx="351.2" cy="242.1" r="2.5"/><circle cx="357.4" cy="241.3" r="2.5"/><circle cx="363.5" cy="242.1" r="2.5"/><circle cx="369.7" cy="243.6" r="2.5"/><circle cx="379.7" cy="230.5" r="2.5"/><circle cx="383.6" cy="228.9" r="2.5"/><circle cx="378.2" cy="236.0" r="2.5"/><circle cx="376.7" cy="240.5" r="2.5"/><circle cx="382.1" cy="234.3" r="2.5"/><circle cx="382.1" cy="239.7" r="2.5"/><circle cx="348.5" cy="241.5" r="2.5"/><circle cx="353.1" cy="244.3" r="2.5"/><circle cx="360.1" cy="247.2" r="2.5"/><circle cx="365.9" cy="250.7" r="2.5"/><circle cx="372.8" cy="253.6" r="2.5"/><circle cx="379.8" cy="251.3" r="2.5"/><circle cx="385.6" cy="248.9" r="2.5"/><circle cx="391.3" cy="246.6" r="2.5"/><circle cx="397.1" cy="243.7" r="2.5"/><circle cx="401.8" cy="240.2" r="2.5"/><circle cx="503.1" cy="180.4" r="2.5"/><circle cx="389.3" cy="215.8" r="2.5"/><circle cx="393.9" cy="215.5" r="2.5"/><circle cx="391.6" cy="213.5" r="2.5"/><circle cx="392.4" cy="218.2" r="2.5"/><circle cx="388.5" cy="222.0" r="2.5"/><circle cx="387.0" cy="225.1" r="2.5"/><circle cx="393.9" cy="225.1" r="2.5"/><circle cx="390.8" cy="224.3" r="2.5"/><circle cx="399.3" cy="229.4" r="2.5"/><circle cx="408.6" cy="225.1" r="2.5"/><circle cx="409.4" cy="215.1" r="2.5"/><circle cx="380.8" cy="230.9" r="2.5"/><circle cx="384.7" cy="229.0" r="2.5"/><circle cx="389.3" cy="229.0" r="2.5"/><circle cx="377.7" cy="233.6" r="2.5"/><circle cx="383.9" cy="233.6" r="2.5"/><circle cx="390.1" cy="232.8" r="2.5"/><circle cx="395.5" cy="233.6" r="2.5"/><circle cx="340.5" cy="233.0" r="2.5"/><circle cx="343.5" cy="236.5" r="2.5"/><circle cx="345.0" cy="240.0" r="2.5"/><circle cx="337.0" cy="229.5" r="2.5"/></g>
<rect x="305.5" y="68.2" width="207.00" height="194.40" fill="none" stroke="#b3b3b3" stroke-width="0.9"/>
<text x="302.9" y="257.05" text-anchor="end" font-family="Liberation Sans, sans-serif" font-size="7.8" fill="#4d4d4d" stroke="#4d4d4d" stroke-width="0.12">0</text>
<line x1="303.6" y1="254.30" x2="305.5" y2="254.30" stroke="#b3b3b3" stroke-width="0.5"/>
<text x="302.9" y="204.81" text-anchor="end" font-family="Liberation Sans, sans-serif" font-size="7.8" fill="#4d4d4d" stroke="#4d4d4d" stroke-width="0.12">2</text>
<line x1="303.6" y1="202.06" x2="305.5" y2="202.06" stroke="#b3b3b3" stroke-width="0.5"/>
<text x="302.9" y="152.57" text-anchor="end" font-family="Liberation Sans, sans-serif" font-size="7.8" fill="#4d4d4d" stroke="#4d4d4d" stroke-width="0.12">4</text>
<line x1="303.6" y1="149.82" x2="305.5" y2="149.82" stroke="#b3b3b3" stroke-width="0.5"/>
<text x="302.9" y="100.33" text-anchor="end" font-family="Liberation Sans, sans-serif" font-size="7.8" fill="#4d4d4d" stroke="#4d4d4d" stroke-width="0.12">6</text>
<line x1="303.6" y1="97.58" x2="305.5" y2="97.58" stroke="#b3b3b3" stroke-width="0.5"/>
<text x="330.60" y="271.2" text-anchor="middle" font-family="Liberation Sans, sans-serif" font-size="7.3" fill="#4d4d4d" stroke="#4d4d4d" stroke-width="0.12">-1</text>
<line x1="330.60" y1="262.5" x2="330.60" y2="264.4" stroke="#b3b3b3" stroke-width="0.5"/>
<text x="372.95" y="271.2" text-anchor="middle" font-family="Liberation Sans, sans-serif" font-size="7.3" fill="#4d4d4d" stroke="#4d4d4d" stroke-width="0.12">0</text>
<line x1="372.95" y1="262.5" x2="372.95" y2="264.4" stroke="#b3b3b3" stroke-width="0.5"/>
<text x="415.30" y="271.2" text-anchor="middle" font-family="Liberation Sans, sans-serif" font-size="7.3" fill="#4d4d4d" stroke="#4d4d4d" stroke-width="0.12">1</text>
<line x1="415.30" y1="262.5" x2="415.30" y2="264.4" stroke="#b3b3b3" stroke-width="0.5"/>
<text x="457.65" y="271.2" text-anchor="middle" font-family="Liberation Sans, sans-serif" font-size="7.3" fill="#4d4d4d" stroke="#4d4d4d" stroke-width="0.12">2</text>
<line x1="457.65" y1="262.5" x2="457.65" y2="264.4" stroke="#b3b3b3" stroke-width="0.5"/>
<text x="500.00" y="271.2" text-anchor="middle" font-family="Liberation Sans, sans-serif" font-size="7.3" fill="#4d4d4d" stroke="#4d4d4d" stroke-width="0.12">3</text>
<line x1="500.00" y1="262.5" x2="500.00" y2="264.4" stroke="#b3b3b3" stroke-width="0.5"/>
<text x="408.8" y="280.8" text-anchor="middle" font-family="Liberation Sans, sans-serif" font-size="9.8" fill="#000" stroke="#000" stroke-width="0.1">log2FoldChange</text>
<text transform="translate(296.6,165.6) rotate(-90)" text-anchor="middle" font-family="Liberation Sans, sans-serif" font-size="9.8" fill="#000" stroke="#000" stroke-width="0.1">-log10(pvalue)</text>
<text x="307.8" y="299.0" font-family="Liberation Sans, sans-serif" font-size="9.7" fill="#000" stroke="#000" stroke-width="0.1">Significant</text>
<circle cx="361.9" cy="295.4" r="1.2" fill="#FF2A00"/>
<text x="371.2" y="298.2" font-family="Liberation Sans, sans-serif" font-size="7.8" fill="#000" stroke="#000" stroke-width="0.1">FDR &lt; 0.05</text>
<circle cx="420.3" cy="295.4" r="1.2" fill="#BEBEBE"/>
<text x="430" y="298.2" font-family="Liberation Sans, sans-serif" font-size="7.8" fill="#000" stroke="#000" stroke-width="0.1">Not Sig</text>
<circle cx="402.2" cy="76.7" r="2.6" fill="#FF1A00"/>
<circle cx="357.1" cy="140.6" r="2.6" fill="#FF1A00"/>
<circle cx="394.7" cy="147.0" r="2.6" fill="#FF1A00"/>
<circle cx="390.1" cy="162.2" r="2.6" fill="#FF1A00"/>
<circle cx="422.2" cy="157.2" r="2.6" fill="#FF1A00"/>
<circle cx="456.4" cy="159.7" r="2.6" fill="#FF1A00"/>
<circle cx="462.2" cy="151.8" r="2.6" fill="#FF1A00"/>
<circle cx="469.9" cy="162.6" r="2.6" fill="#FF1A00"/>
<line x1="423.0" y1="155.4" x2="424.5" y2="151.3" stroke="#333" stroke-width="0.5"/>
<text x="384.1" y="74.90" font-family="Liberation Sans, sans-serif" font-size="6.25" fill="#000" stroke="#000" stroke-width="0.08">eca-miR-142-3p</text>
<text x="334.7" y="139.10" font-family="Liberation Sans, sans-serif" font-size="6.25" fill="#000" stroke="#000" stroke-width="0.08">eca-miR-26a</text>
<text x="358.0" y="154.40" font-family="Liberation Sans, sans-serif" font-size="6.25" fill="#000" stroke="#000" stroke-width="0.08">eca-miR-142-5p</text>
<text x="356.2" y="168.40" font-family="Liberation Sans, sans-serif" font-size="6.25" fill="#000" stroke="#000" stroke-width="0.08">eca-miR-chrX_37753</text>
<text x="406.8" y="150.30" font-family="Liberation Sans, sans-serif" font-size="6.25" fill="#000" stroke="#000" stroke-width="0.08">eca-miR-223</text>
<text x="424.1" y="157.90" font-family="Liberation Sans, sans-serif" font-size="6.25" fill="#000" stroke="#000" stroke-width="0.08">eca-miR-212</text>
<text x="452.5" y="150.30" font-family="Liberation Sans, sans-serif" font-size="6.25" fill="#000" stroke="#000" stroke-width="0.08">eca-miR-31</text>
<text x="456.0" y="168.20" font-family="Liberation Sans, sans-serif" font-size="6.25" fill="#000" stroke="#000" stroke-width="0.08">eca-miR-224</text>
<rect x="63.60" y="322.43" width="6.16" height="195.07" fill="#BEBEBE" stroke="#4a4a4a" stroke-width="0.55"/><rect x="69.75" y="365.77" width="6.16" height="151.73" fill="#BEBEBE" stroke="#4a4a4a" stroke-width="0.55"/><rect x="75.91" y="373.00" width="6.16" height="144.50" fill="#BEBEBE" stroke="#4a4a4a" stroke-width="0.55"/><rect x="82.06" y="365.77" width="6.16" height="151.73" fill="#BEBEBE" stroke="#4a4a4a" stroke-width="0.55"/><rect x="88.22" y="380.23" width="6.16" height="137.27" fill="#BEBEBE" stroke="#4a4a4a" stroke-width="0.55"/><rect x="94.38" y="430.80" width="6.16" height="86.70" fill="#BEBEBE" stroke="#4a4a4a" stroke-width="0.55"/><rect x="100.53" y="387.45" width="6.16" height="130.05" fill="#BEBEBE" stroke="#4a4a4a" stroke-width="0.55"/><rect x="106.69" y="416.35" width="6.16" height="101.15" fill="#BEBEBE" stroke="#4a4a4a" stroke-width="0.55"/><rect x="112.84" y="423.57" width="6.16" height="93.93" fill="#BEBEBE" stroke="#4a4a4a" stroke-width="0.55"/><rect x="119.00" y="430.80" width="6.16" height="86.70" fill="#BEBEBE" stroke="#4a4a4a" stroke-width="0.55"/><rect x="125.15" y="401.90" width="6.16" height="115.60" fill="#BEBEBE" stroke="#4a4a4a" stroke-width="0.55"/><rect x="131.31" y="430.80" width="6.16" height="86.70" fill="#BEBEBE" stroke="#4a4a4a" stroke-width="0.55"/><rect x="137.46" y="430.80" width="6.16" height="86.70" fill="#BEBEBE" stroke="#4a4a4a" stroke-width="0.55"/><rect x="143.62" y="445.25" width="6.16" height="72.25" fill="#BEBEBE" stroke="#4a4a4a" stroke-width="0.55"/><rect x="149.77" y="459.70" width="6.16" height="57.80" fill="#BEBEBE" stroke="#4a4a4a" stroke-width="0.55"/><rect x="155.93" y="409.12" width="6.16" height="108.38" fill="#BEBEBE" stroke="#4a4a4a" stroke-width="0.55"/><rect x="162.08" y="445.25" width="6.16" height="72.25" fill="#BEBEBE" stroke="#4a4a4a" stroke-width="0.55"/><rect x="168.24" y="430.80" width="6.16" height="86.70" fill="#BEBEBE" stroke="#4a4a4a" stroke-width="0.55"/><rect x="174.39" y="452.48" width="6.16" height="65.02" fill="#BEBEBE" stroke="#4a4a4a" stroke-width="0.55"/><rect x="180.55" y="466.93" width="6.16" height="50.57" fill="#BEBEBE" stroke="#4a4a4a" stroke-width="0.55"/><rect x="186.70" y="481.38" width="6.16" height="36.12" fill="#BEBEBE" stroke="#4a4a4a" stroke-width="0.55"/><rect x="192.85" y="401.90" width="6.16" height="115.60" fill="#BEBEBE" stroke="#4a4a4a" stroke-width="0.55"/><rect x="199.01" y="409.12" width="6.16" height="108.38" fill="#BEBEBE" stroke="#4a4a4a" stroke-width="0.55"/><rect x="205.16" y="423.57" width="6.16" height="93.93" fill="#BEBEBE" stroke="#4a4a4a" stroke-width="0.55"/><rect x="211.32" y="488.60" width="6.16" height="28.90" fill="#BEBEBE" stroke="#4a4a4a" stroke-width="0.55"/><rect x="217.47" y="401.90" width="6.16" height="115.60" fill="#BEBEBE" stroke="#4a4a4a" stroke-width="0.55"/><rect x="223.63" y="466.93" width="6.16" height="50.57" fill="#BEBEBE" stroke="#4a4a4a" stroke-width="0.55"/><rect x="229.78" y="445.25" width="6.16" height="72.25" fill="#BEBEBE" stroke="#4a4a4a" stroke-width="0.55"/><rect x="235.94" y="445.25" width="6.16" height="72.25" fill="#BEBEBE" stroke="#4a4a4a" stroke-width="0.55"/><rect x="242.09" y="481.38" width="6.16" height="36.12" fill="#BEBEBE" stroke="#4a4a4a" stroke-width="0.55"/>
<line x1="54.7" y1="312.6" x2="54.7" y2="527.6" stroke="#555" stroke-width="0.9"/>
<line x1="54.3" y1="527.3" x2="257.8" y2="527.3" stroke="#555" stroke-width="0.9"/>
<text x="51.9" y="520.35" text-anchor="end" font-family="Liberation Sans, sans-serif" font-size="8.0" fill="#4d4d4d">0</text>
<line x1="52.8" y1="517.50" x2="54.7" y2="517.50" stroke="#555" stroke-width="0.5"/>
<text x="51.9" y="448.10" text-anchor="end" font-family="Liberation Sans, sans-serif" font-size="8.0" fill="#4d4d4d">10</text>
<line x1="52.8" y1="445.25" x2="54.7" y2="445.25" stroke="#555" stroke-width="0.5"/>
<text x="51.9" y="375.85" text-anchor="end" font-family="Liberation Sans, sans-serif" font-size="8.0" fill="#4d4d4d">20</text>
<line x1="52.8" y1="373.00" x2="54.7" y2="373.00" stroke="#555" stroke-width="0.5"/>
<text x="67.00" y="535.9" text-anchor="middle" font-family="Liberation Sans, sans-serif" font-size="8.0" fill="#4d4d4d">0.00</text>
<line x1="67.00" y1="527.3" x2="67.00" y2="529.2" stroke="#555" stroke-width="0.5"/>
<text x="111.72" y="535.9" text-anchor="middle" font-family="Liberation Sans, sans-serif" font-size="8.0" fill="#4d4d4d">0.25</text>
<line x1="111.72" y1="527.3" x2="111.72" y2="529.2" stroke="#555" stroke-width="0.5"/>
<text x="156.45" y="535.9" text-anchor="middle" font-family="Liberation Sans, sans-serif" font-size="8.0" fill="#4d4d4d">0.50</text>
<line x1="156.45" y1="527.3" x2="156.45" y2="529.2" stroke="#555" stroke-width="0.5"/>
<text x="201.18" y="535.9" text-anchor="middle" font-family="Liberation Sans, sans-serif" font-size="8.0" fill="#4d4d4d">0.75</text>
<line x1="201.18" y1="527.3" x2="201.18" y2="529.2" stroke="#555" stroke-width="0.5"/>
<text x="245.90" y="535.9" text-anchor="middle" font-family="Liberation Sans, sans-serif" font-size="8.0" fill="#4d4d4d">1.00</text>
<line x1="245.90" y1="527.3" x2="245.90" y2="529.2" stroke="#555" stroke-width="0.5"/>
<text x="155.9" y="545.5" text-anchor="middle" font-family="Liberation Sans, sans-serif" font-size="9.7" fill="#000" stroke="#000" stroke-width="0.1">pvalue</text>
<text transform="translate(41.3,419.7) rotate(-90)" text-anchor="middle" font-family="Liberation Sans, sans-serif" font-size="9.8" fill="#000" stroke="#000" stroke-width="0.1">count</text>
</svg>
</body></html>
